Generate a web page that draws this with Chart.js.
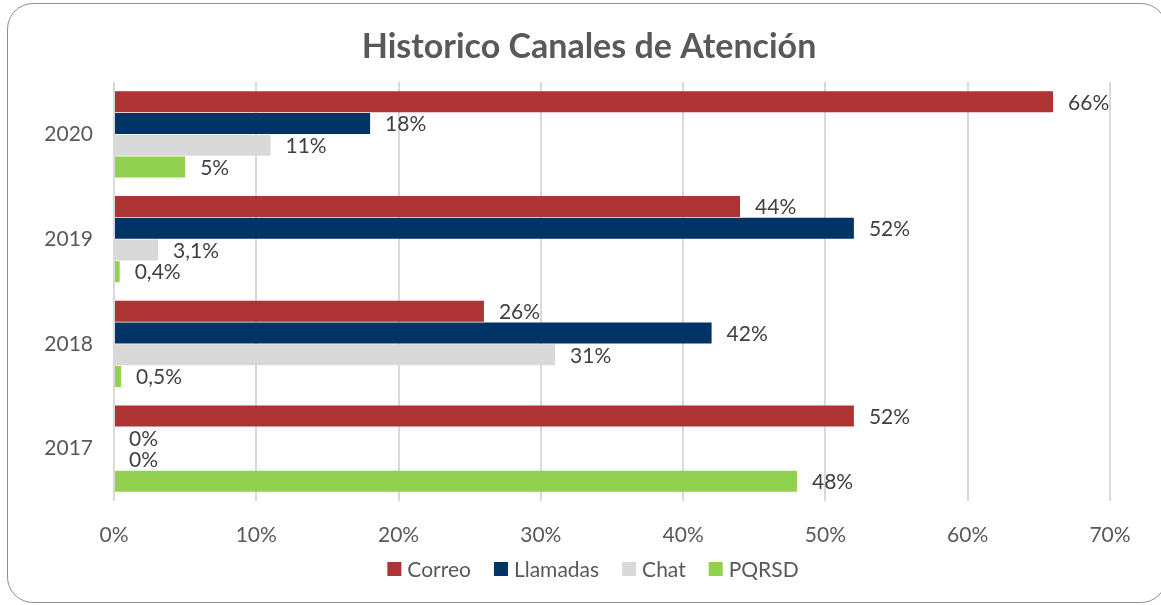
<!DOCTYPE html>
<html lang="es">
<head>
<meta charset="utf-8">
<title>Historico Canales de Atención</title>
<script src="https://cdn.jsdelivr.net/npm/chart.js@4.4.1/dist/chart.umd.min.js"></script>
<style>
  html, body { margin: 0; padding: 0; background: #fff; overflow: hidden; }
  #card {
    position: absolute; left: 7px; top: 3px;
    width: 1160px; height: 600px;
    border: 1.5px solid #8f8f8f; border-radius: 26px;
    box-sizing: border-box;
  }
  #canales { position: absolute; left: 0; top: 0; }
</style>
</head>
<body>
<div id="card"></div>
<canvas id="canales" width="1161" height="605"></canvas>
<script>
// Años (de arriba hacia abajo) y porcentaje por canal
const years = ['2020', '2019', '2018', '2017'];
const correo = [66, 44, 26, 52];
const llamadas = [18, 52, 42, 0];
const chat = [11, 3.1, 31, 0];
const pqrsd = [5, 0.4, 0.5, 48];
const xTicks = [0, 10, 20, 30, 40, 50, 60, 70];

const TITLE = 'Historico Canales de Atención';
const FONT = "Lato, 'Liberation Sans', sans-serif";
const GRAY = '#595959';

// Formato con coma decimal: 3.1 -> "3,1%"
function pct(v) {
  return String(v).replace('.', ',') + '%';
}

// Etiquetas de valor a la derecha de cada barra
const barLabels = {
  id: 'barLabels',
  afterDatasetsDraw(chart) {
    const ctx = chart.ctx;
    ctx.save();
    ctx.font = '21px ' + FONT;
    ctx.fillStyle = '#404040';
    ctx.textAlign = 'left';
    ctx.textBaseline = 'middle';
    chart.data.datasets.forEach((ds, i) => {
      chart.getDatasetMeta(i).data.forEach((bar, j) => {
        ctx.fillText(pct(ds.data[j]), bar.x + 15, bar.y + 1);
      });
    });
    ctx.restore();
  }
};

// Título y leyenda dibujados a mano (posición fija como en Excel)
const frame = {
  id: 'frame',
  afterDraw(chart) {
    const ctx = chart.ctx;
    ctx.save();
    ctx.fillStyle = GRAY;
    ctx.textBaseline = 'middle';
    ctx.textAlign = 'center';
    ctx.font = 'bold 34px ' + FONT;
    ctx.fillText(TITLE, 589, 47);

    // leyenda centrada
    ctx.font = '21px ' + FONT;
    ctx.textAlign = 'left';
    const box = 14, gapText = 6, gapItem = 23, y = 569;
    const items = chart.data.datasets.map(ds => ({
      label: ds.label,
      color: ds.backgroundColor,
      w: box + gapText + ctx.measureText(ds.label).width
    }));
    const total = items.reduce((s, it) => s + it.w, 0) + gapItem * (items.length - 1);
    let x = 593 - total / 2;
    items.forEach(it => {
      ctx.fillStyle = it.color;
      ctx.fillRect(x, y - box / 2, box, box);
      ctx.fillStyle = GRAY;
      ctx.fillText(it.label, x + box + gapText, y + 1);
      x += it.w + gapItem;
    });
    ctx.restore();
  }
};

new Chart(document.getElementById('canales'), {
  type: 'bar',
  data: {
    labels: years,
    datasets: [
      { label: 'Correo', data: correo, backgroundColor: '#AD3335' },
      { label: 'Llamadas', data: llamadas, backgroundColor: '#003366' },
      { label: 'Chat', data: chat, backgroundColor: '#D9D9D9' },
      { label: 'PQRSD', data: pqrsd, backgroundColor: '#92D050' }
    ]
  },
  options: {
    indexAxis: 'y',
    responsive: false,
    animation: false,
    devicePixelRatio: 1,
    datasets: {
      bar: { categoryPercentage: 0.83, barPercentage: 0.97 }
    },
    layout: { padding: { left: 20, right: 51, top: 82, bottom: 56 } },
    plugins: {
      title: { display: false },
      legend: { display: false },
      tooltip: { enabled: false }
    },
    scales: {
      x: {
        min: 0,
        max: 70,
        afterBuildTicks(scale) {
          scale.ticks = xTicks.map(v => ({ value: v }));
        },
        afterFit(scale) { scale.height = 48; },
        ticks: {
          color: GRAY,
          font: { family: FONT, size: 21 },
          padding: 22,
          maxRotation: 0,
          callback: v => v + '%'
        },
        grid: { color: '#D9D9D9', lineWidth: 2, drawTicks: false },
        border: { display: false }
      },
      y: {
        afterFit(scale) { scale.width = 94; },
        ticks: {
          color: GRAY,
          font: { family: FONT, size: 21 },
          padding: 13
        },
        grid: { display: false },
        border: { display: false }
      }
    }
  },
  plugins: [barLabels, frame]
});
</script>
</body>
</html>
